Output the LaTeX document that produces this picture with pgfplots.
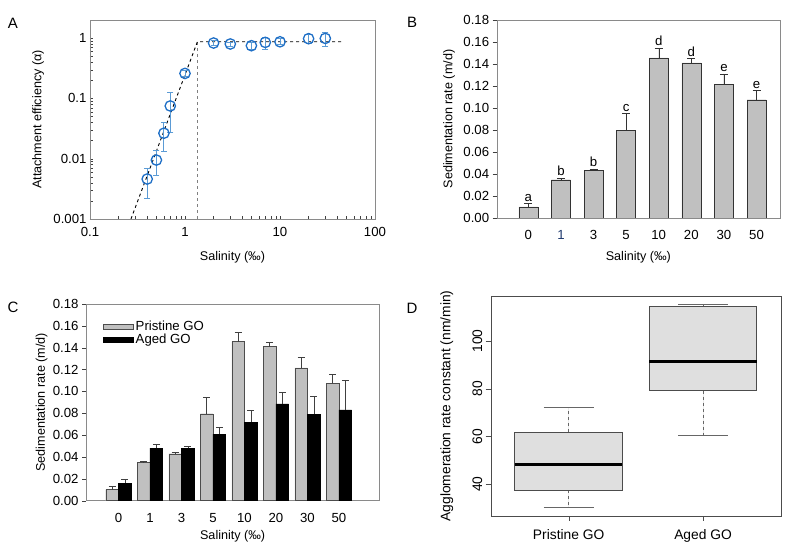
\documentclass[border=0pt]{standalone}
\usepackage{fontspec}
\setmainfont{Liberation Sans}
\usepackage{pgfplots}
\usepackage{pgfplotstable}
\pgfplotsset{compat=1.18}
\usepgfplotslibrary{statistics}

\definecolor{ablue}{HTML}{1F6FC6}
\definecolor{ebblue}{HTML}{5B9BD5}
\definecolor{bargray}{HTML}{C0C0C0}
\definecolor{framegray}{HTML}{8A8A8A}
\definecolor{navy}{HTML}{1F3A6E}

\newcommand{\fs}{\fontsize{12.6}{15}\selectfont}
\newcommand{\ft}{\fontsize{13.2}{15}\selectfont}
\newcommand{\fd}{\fontsize{13.8}{16}\selectfont}

\pgfplotsset{rectlegend/.style={legend image code/.code={\draw[##1] (0pt,-2.6pt) rectangle (30pt,2.6pt);}}}

\pgfplotstableread[row sep=\\]{
x y e\\
0 0.0102 0.0028\\
1 0.0348 0.0015\\
2 0.0430 0.0017\\
3 0.0796 0.0155\\
4 0.1455 0.0090\\
5 0.1410 0.0040\\
6 0.1215 0.0095\\
7 0.1075 0.0085\\
}\pristine
\pgfplotstableread[row sep=\\]{
x y e\\
0 0.0160 0.0040\\
1 0.0480 0.0037\\
2 0.0480 0.0020\\
3 0.0610 0.0065\\
4 0.0720 0.0110\\
5 0.0885 0.0110\\
6 0.0790 0.0170\\
7 0.0830 0.0270\\
}\aged

\begin{document}
\begin{tikzpicture}
\useasboundingbox (0pt,0pt) rectangle (800pt,545pt);
\pgfplotsset{
  every axis/.append style={scale only axis, anchor=south west, font=\fs,
    /pgf/number format/assume math mode=true,
    axis line style={framegray}, tick style={black!75},
    every tick label/.append style={font=\ft},
    every x tick label/.append style={yshift=-5pt}},
}

% ---------------- Panel A ----------------
\begin{axis}[at={(90pt,326pt)}, width=285pt, height=199pt,
  xmode=log, ymode=log, xmin=0.1, xmax=100, ymin=0.001, ymax=2,
  xtick={0.1,1,10,100}, xticklabels={0.1,1,10,100},
  ytick={0.001,0.01,0.1,1}, yticklabels={0.001,0.01,0.1,1},
  minor tick num=0, tick pos=left, tick align=inside, major tick length=3pt,
  every axis x label/.style={at={([yshift=-38pt]axis description cs:0.5,0)}, anchor=center},
  every axis y label/.style={at={([xshift=-52pt]axis description cs:0,0.5)}, anchor=center, rotate=90},
  xlabel={Salinity (‰)}, ylabel={Attachment efficiency (α)},
  unbounded coords=jump]
\addplot[gray, dashed, line width=0.8pt] coordinates {(1.35,0.001) (1.35,0.87)};
\addplot[black, dashed, line width=0.9pt] coordinates {(0.27,0.001) (1.35,0.87) (45,0.87)};
\addplot[ebblue, line width=1pt, mark=-, mark size=3pt, mark options={solid}] table[row sep=\\] {
x y\\
0.4 0.0022\\ 0.4 0.0068\\ nan nan\\
0.5 0.0053\\ 0.5 0.0135\\ nan nan\\
0.6 0.013\\ 0.6 0.040\\ nan nan\\
0.7 0.027\\ 0.7 0.125\\ nan nan\\
1 0.23\\ 1 0.29\\ nan nan\\
2 0.76\\ 2 0.90\\ nan nan\\
3 0.74\\ 3 0.86\\ nan nan\\
5 0.66\\ 5 0.84\\ nan nan\\
7 0.64\\ 7 1.02\\ nan nan\\
10 0.78\\ 10 0.98\\ nan nan\\
20 0.80\\ 20 1.15\\ nan nan\\
30 0.73\\ 30 1.25\\
};
\addplot[ablue, only marks, mark=o, mark size=5.2pt, line width=1.3pt] table[row sep=\\] {
x y\\
0.4 0.0046\\ 0.5 0.0095\\ 0.6 0.0265\\ 0.7 0.075\\ 1 0.26\\
2 0.83\\ 3 0.80\\ 5 0.75\\ 7 0.85\\ 10 0.87\\ 20 0.98\\ 30 0.99\\
};
\end{axis}

% ---------------- Panel B ----------------
\begin{axis}[at={(496.7pt,327pt)}, width=283.3pt, height=198pt,
  ymin=0, ymax=0.18, ytick={0,0.02,0.04,0.06,0.08,0.10,0.12,0.14,0.16,0.18},
  yticklabel style={/pgf/number format/.cd, fixed, fixed zerofill, precision=2},
  xmin=-0.97, xmax=7.72, xtick={0,1,2,3,4,5,6,7},
  xticklabels={0,{\color{navy}1},3,5,10,20,30,50},
  xtick style={draw=none}, ytick pos=left, tick align=outside, major tick length=4pt,
  every axis x label/.style={at={([yshift=-39pt]axis description cs:0.5,0)}, anchor=center},
  every axis y label/.style={at={([xshift=-47.5pt]axis description cs:0,0.5)}, anchor=center, rotate=90},
  xlabel={Salinity (‰)}, ylabel={Sedimentation rate (m/d)}]
\addplot[ybar, bar width=19pt, fill=bargray, draw=black!80,
  error bars/.cd, y dir=plus, y explicit,
  error bar style={black!80}, error mark options={rotate=90, mark size=4pt, black!80}]
  table[x=x, y=y, y error=e] {\pristine};
\addplot[only marks, mark=*, mark size=0pt, mark options={draw=none, fill=none},
  nodes near coords, point meta=explicit symbolic,
  nodes near coords style={anchor=south, text=black, font=\ft, inner sep=2pt}]
  table[row sep=\\, meta=lab] {
x y lab\\
0 0.0130 a\\
1 0.0363 b\\
2 0.0447 b\\
3 0.0951 c\\
4 0.1545 d\\
5 0.1450 d\\
6 0.1310 e\\
7 0.1160 e\\
};
\end{axis}

% ---------------- Panel C ----------------
\begin{axis}[at={(86pt,44.3pt)}, width=293.3pt, height=196.7pt,
  ymin=0, ymax=0.18, ytick={0,0.02,0.04,0.06,0.08,0.10,0.12,0.14,0.16,0.18},
  yticklabel style={/pgf/number format/.cd, fixed, fixed zerofill, precision=2},
  xmin=-1.03, xmax=8.28, xtick={0,1,2,3,4,5,6,7},
  xticklabels={0,1,3,5,10,20,30,50},
  xtick style={draw=none}, ytick pos=left, tick align=outside, major tick length=4pt,
  every axis x label/.style={at={([yshift=-36pt]axis description cs:0.5,0)}, anchor=center},
  every axis y label/.style={at={([xshift=-44.3pt]axis description cs:0,0.5)}, anchor=center, rotate=90},
  xlabel={Salinity (‰)}, ylabel={Sedimentation rate (m/d)},
  legend style={at={(axis description cs:0.055,0.93)}, anchor=north west, draw=none, fill=none,
    font=\ft, row sep=-2pt, inner sep=1pt},
  legend cell align=left]
\addplot[ybar, bar width=12.7pt, bar shift=-6.35pt, fill=bargray, draw=black!70, rectlegend]
  table[x=x, y=y] {\pristine};
\addlegendentry{Pristine GO}
\addplot[ybar, bar width=12.7pt, bar shift=6.35pt, fill=black, draw=black, rectlegend]
  table[x=x, y=y] {\aged};
\addlegendentry{Aged GO}
\addplot[only marks, mark=*, mark size=0pt, mark options={draw=none, fill=none}, forget plot,
  error bars/.cd, y dir=plus, y explicit,
  error bar style={draw=black!75, solid}, error mark options={rotate=90, mark size=3.5pt, draw=black!75}]
  table[x expr=\thisrow{x}-0.2016, y=y, y error=e] {\pristine};
\addplot[only marks, mark=*, mark size=0pt, mark options={draw=none, fill=none}, forget plot,
  error bars/.cd, y dir=plus, y explicit,
  error bar style={draw=black!75, solid}, error mark options={rotate=90, mark size=3.5pt, draw=black!75}]
  table[x expr=\thisrow{x}+0.2016, y=y, y error=e] {\aged};
\end{axis}

% ---------------- Panel D ----------------
\begin{axis}[at={(490.7pt,29pt)}, width=290.3pt, height=220pt,
  font=\fd, every tick label/.append style={font=\fd},
  xmin=0.42, xmax=2.58, ymin=26.7, ymax=118.8,
  xtick={1,2}, xticklabels={Pristine GO, Aged GO},
  ytick={40,60,80,100}, yticklabel style={rotate=90, anchor=south},
  tick pos=left, tick align=outside, major tick length=5pt,
  axis line style={black!70}, tick style={black!70},
  every axis y label/.style={at={([xshift=-44pt]axis description cs:0,0.5)}, anchor=center, rotate=90},
  ylabel={Agglomeration rate constant (nm/min)},
  boxplot/draw direction=y,
  boxplot/every median/.style={black, line width=2.4pt},
  boxplot/draw/lower whisker/.code={%
    \draw[black!60, dashed] (boxplot box cs:\pgfplotsboxplotvalue{lower quartile},0.5) -- (boxplot box cs:\pgfplotsboxplotvalue{lower whisker},0.5);
    \draw[black!60, solid] (boxplot whisker cs:\pgfplotsboxplotvalue{lower whisker},0) -- (boxplot whisker cs:\pgfplotsboxplotvalue{lower whisker},1);
  },
  boxplot/draw/upper whisker/.code={%
    \draw[black!60, dashed] (boxplot box cs:\pgfplotsboxplotvalue{upper quartile},0.5) -- (boxplot box cs:\pgfplotsboxplotvalue{upper whisker},0.5);
    \draw[black!60, solid] (boxplot whisker cs:\pgfplotsboxplotvalue{upper whisker},0) -- (boxplot whisker cs:\pgfplotsboxplotvalue{upper whisker},1);
  }]
\addplot[boxplot prepared={lower whisker=30.2, lower quartile=37.5, median=48.2,
  upper quartile=61.8, upper whisker=72.2, draw position=1, box extend=0.8, whisker extend=0.37},
  draw=black!70, fill=gray!25, line width=0.8pt, mark=none] coordinates {};
\addplot[boxplot prepared={lower whisker=60.6, lower quartile=79.2, median=91.3,
  upper quartile=114.3, upper whisker=115.3, draw position=2, box extend=0.8, whisker extend=0.37},
  draw=black!70, fill=gray!25, line width=0.8pt, mark=none] coordinates {};
\end{axis}

% panel letters
\node[font=\fontsize{15}{18}\selectfont] at (13pt,522pt) {A};
\node[font=\fontsize{15}{18}\selectfont] at (412pt,523pt) {B};
\node[font=\fontsize{15}{18}\selectfont] at (13pt,238pt) {C};
\node[font=\fontsize{15}{18}\selectfont] at (412pt,237pt) {D};
\end{tikzpicture}
\end{document}
